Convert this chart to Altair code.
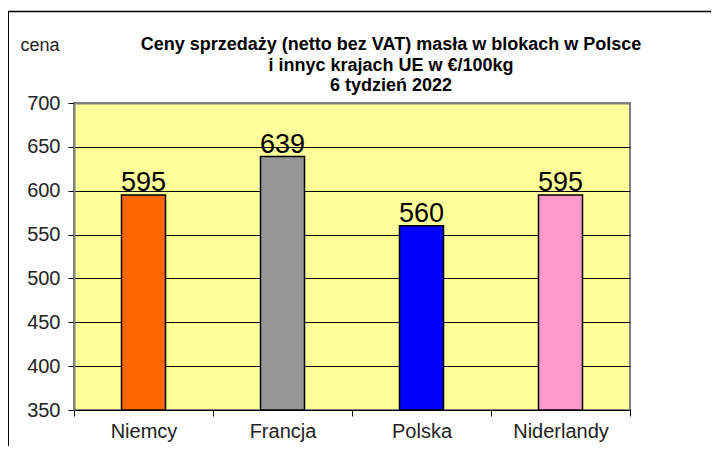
import altair as alt
import pandas as pd

kraje = ["Niemcy", "Francja", "Polska", "Niderlandy"]
ceny = [595, 639, 560, 595]
kolory = ["#FF6600", "#969696", "#0000FF", "#FF99CC"]
y_ticks = [350, 400, 450, 500, 550, 600, 650, 700]
title_lines = [
    "Ceny sprzedaży (netto bez VAT) masła  w blokach w Polsce",
    "i  innyc krajach UE w €/100kg",
    "6 tydzień 2022",
]
y_min, y_max = 350, 700

df = pd.DataFrame({"kraj": kraje, "cena": ceny, "kolor": kolory})
FONT = "Liberation Sans"

x_enc = alt.X(
    "kraj:N",
    sort=kraje,
    scale=alt.Scale(paddingInner=0, paddingOuter=0),
    axis=alt.Axis(
        title=None, labelAngle=0, labelFontSize=20, labelColor="#222222",
        labelFont=FONT, tickBand="extent", tickSize=6, tickColor="black",
        domainColor="black", domainWidth=1, labelPadding=5, grid=False,
    ),
)
y_enc = alt.Y(
    "cena:Q",
    scale=alt.Scale(domain=[y_min, y_max], nice=False, zero=False),
    axis=alt.Axis(
        values=y_ticks, title="cena", titleAngle=0, titleX=-54, titleY=-58,
        titleAlign="left", titleBaseline="middle", titleFontWeight="normal",
        titleFontSize=18, titleFont=FONT, titleColor="#222222",
        labelFontSize=20, labelFont=FONT, labelColor="#222222",
        tickSize=6, tickColor="black", labelPadding=8,
        domainColor="#808080", domainWidth=2,
        grid=True,
        gridColor={"condition": {"test": "datum.value == 700", "value": "#808080"}, "value": "black"},
        gridWidth={"condition": {"test": "datum.value == 700", "value": 2}, "value": 1},
        gridOpacity=1,
    ),
)

bars = alt.Chart(df).mark_bar(size=44, stroke="black", strokeWidth=1.5).encode(
    x=x_enc, y=y_enc, y2=alt.datum(y_min), color=alt.Color("kolor:N", scale=None)
)
labels = alt.Chart(df).mark_text(
    baseline="alphabetic", dy=-4, fontSize=27, font=FONT, color="black"
).encode(x=alt.X("kraj:N", sort=kraje), y=alt.Y("cena:Q"), text="cena:Q")

one = pd.DataFrame({"a": [0]})
title_mark = alt.Chart(one).mark_text(
    font=FONT, fontSize=18, fontWeight="bold", color="black",
    align="center", baseline="middle", lineHeight=20.5,
).encode(x=alt.value(317), y=alt.value(-58), text=alt.value(title_lines))

frame_left = alt.Chart(one).mark_rule(color="black", strokeWidth=1).encode(
    x=alt.value(-65.5), y=alt.value(-91.5), y2=alt.value(360)
)
frame_top = alt.Chart(one).mark_rule(color="black", strokeWidth=1.5).encode(
    x=alt.value(-66), x2=alt.value(660), y=alt.value(-91.5)
)

chart = alt.layer(bars, labels, title_mark, frame_left, frame_top).properties(
    width=556,
    height=307,
    padding={"left": 66, "top": 95, "right": 81, "bottom": 36},
    autosize="none",
).configure_view(fill="#FFFF99", stroke="#808080", strokeWidth=2)

chart.save("out.html", embed_options={"renderer": "svg", "actions": False})
